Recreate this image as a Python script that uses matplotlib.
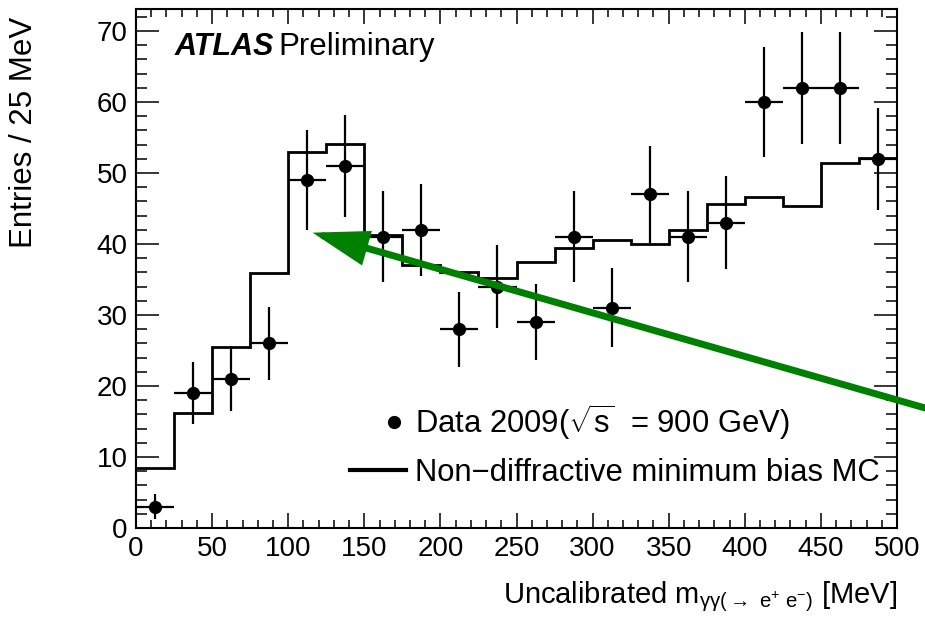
import numpy as np
import matplotlib
matplotlib.use("Agg")
import matplotlib.pyplot as plt
from matplotlib.lines import Line2D
from matplotlib.legend_handler import HandlerLine2D
from matplotlib.ticker import MultipleLocator

plt.rcParams['font.family'] = ['Liberation Sans', 'DejaVu Sans']
plt.rcParams['mathtext.fontset'] = 'custom'
plt.rcParams['mathtext.rm'] = 'Liberation Sans'
plt.rcParams['mathtext.it'] = 'Liberation Sans:italic'
plt.rcParams['mathtext.bf'] = 'Liberation Sans:bold'
plt.rcParams['mathtext.default'] = 'regular'

# --- data (25 MeV bins, 0-500 MeV) ---
bin_edges = np.arange(0, 525, 25)
data_counts = [3, 19, 21, 26, 49, 51, 41, 42, 28, 34,
               29, 41, 31, 47, 41, 43, 60, 62, 62, 52]
mc_counts = [8.5, 16.2, 25.5, 35.9, 53.0, 54.1, 41.3, 37.1, 36.1, 35.2,
             37.4, 39.5, 40.6, 40.0, 42.0, 45.6, 46.6, 45.3, 51.4, 52.1]
x_ticks = [0, 50, 100, 150, 200, 250, 300, 350, 400, 450, 500]
y_ticks = [0, 10, 20, 30, 40, 50, 60, 70]
arrow_tip = (116, 41.6)

centers = 0.5 * (bin_edges[:-1] + bin_edges[1:])
half_w = 0.5 * np.diff(bin_edges)
yerr = np.sqrt(data_counts)


class ShiftedMarker(HandlerLine2D):
    # ROOT puts the marker right of the legend box centre
    def create_artists(self, legend, orig_handle, xdescent, ydescent,
                       width, height, fontsize, trans):
        arts = super().create_artists(legend, orig_handle, xdescent, ydescent,
                                      width, height, fontsize, trans)
        for a in arts:
            a.set_xdata(np.asarray(a.get_xdata()) + 0.29 * width)
        return arts


fig = plt.figure(figsize=(9.25, 6.18), dpi=100)
ax = fig.add_axes([136/925, 90/618, 761/925, 519/618])

ax.stairs(mc_counts, bin_edges, baseline=None, color='black', lw=2)
ax.errorbar(centers, data_counts, xerr=half_w, yerr=yerr, fmt='o',
            color='black', ms=8.5, elinewidth=1.6, capsize=0, zorder=4)

ax.set_xlim(0, 500)
ax.set_ylim(0, 73.1)
ax.set_xticks(x_ticks)
ax.set_yticks(y_ticks)
ax.xaxis.set_minor_locator(MultipleLocator(10))
ax.yaxis.set_minor_locator(MultipleLocator(2))
ax.tick_params(which='both', direction='in', top=True, right=True,
               labelsize=20, width=1.1)
ax.tick_params(axis='x', which='major', length=11, pad=6)
ax.tick_params(axis='x', which='minor', length=5.5)
ax.tick_params(axis='y', which='major', length=16.5, pad=6)
ax.tick_params(axis='y', which='minor', length=8)
for s in ax.spines.values():
    s.set_linewidth(1.5)

ax.set_ylabel("Entries / 25 MeV", fontsize=22.5, loc='top')
ax.yaxis.set_label_coords(-0.127, 0.985)
ax.set_xlabel(r"Uncalibrated m$_{\gamma\gamma(\rightarrow\ e^{+}\ e^{-})}$ [MeV]",
              fontsize=21, loc='right')
ax.xaxis.set_label_coords(1.0, -0.1)

ax.text(0.051, 0.911, "ATLAS", transform=ax.transAxes, fontsize=22,
        fontweight='bold', fontstyle='italic', ha='left', va='baseline')
ax.text(0.187, 0.911, "Preliminary", transform=ax.transAxes, fontsize=22.5,
        ha='left', va='baseline')

data_h = Line2D([], [], marker='o', ls='none', color='black', ms=8.5)
mc_h = Line2D([], [], color='black', lw=3)
labels = [r"Data 2009($\sqrt{s}$  = 900 GeV)", "Non\u2212diffractive minimum bias MC"]
ax.legend([data_h, mc_h], labels, loc='center left', bbox_to_anchor=(0.281, 0.16),
          frameon=False, fontsize=22.3, handlelength=1.8, handletextpad=0.3,
          labelspacing=0.5, borderpad=0, borderaxespad=0,
          handler_map={data_h: ShiftedMarker(numpoints=1)})

ax.annotate("", xy=arrow_tip, xycoords='data',
            xytext=(960, 200), textcoords='figure pixels',
            annotation_clip=False,
            arrowprops=dict(arrowstyle='-|>,head_length=3.0,head_width=0.95',
                            mutation_scale=10, lw=5, color='#008000',
                            shrinkA=0, shrinkB=0, joinstyle='miter'),
            zorder=6)

fig.savefig("out.png", dpi=100)
